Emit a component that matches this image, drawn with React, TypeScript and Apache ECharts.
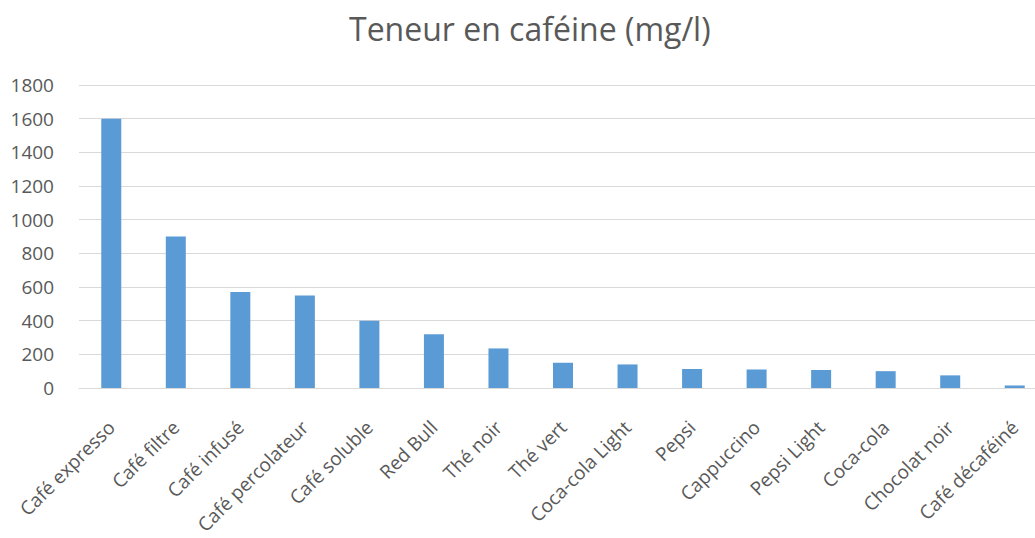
import React, { useEffect, useRef } from "react";
import * as echarts from "echarts";

const categories = [
  "Café expresso",
  "Café filtre",
  "Café infusé",
  "Café percolateur",
  "Café soluble",
  "Red Bull",
  "Thé noir",
  "Thé vert",
  "Coca-cola Light",
  "Pepsi",
  "Cappuccino",
  "Pepsi Light",
  "Coca-cola",
  "Chocolat noir",
  "Café décaféiné",
];
const caffeine = [1600, 900, 570, 550, 400, 320, 235, 150, 140, 113, 110, 107, 100, 75, 15];
const titleText = "Teneur en caféine (mg/l)";
const yMin = 0;
const yMax = 1800;
const yStep = 200;

export default function App() {
  const ref = useRef<HTMLDivElement>(null);
  useEffect(() => {
    if (!ref.current) return;
    const chart = echarts.init(ref.current, null, { renderer: "svg" });
    const font = "'Open Sans', 'Liberation Sans', sans-serif";
    chart.setOption({
      animation: false,
      backgroundColor: "#ffffff",
      title: {
        text: titleText,
        left: 344,
        top: 7,
        textStyle: { fontFamily: font, fontSize: 32, fontWeight: "normal", color: "#595959" },
      },
      grid: {
        left: 79,
        right: -12,
        top: 85,
        bottom: 150,
        containLabel: false,
        outerBoundsMode: "none",
      },
      xAxis: {
        type: "category",
        data: categories,
        axisTick: { show: false },
        axisLine: { show: true, lineStyle: { color: "#d9d9d9", width: 1 } },
        axisLabel: {
          rotate: 45,
          interval: 0,
          margin: 36,
          fontFamily: font,
          fontSize: 19,
          color: "#595959",
        },
      },
      yAxis: {
        type: "value",
        min: yMin,
        max: yMax,
        interval: yStep,
        axisLine: { show: false },
        axisTick: { show: false },
        splitLine: { lineStyle: { color: "#d9d9d9", width: 1 } },
        axisLabel: {
          fontFamily: font,
          fontSize: 19,
          color: "#595959",
          margin: 25,
          formatter: (v: number) => String(v),
        },
      },
      series: [
        {
          type: "bar",
          data: caffeine,
          barWidth: 20,
          itemStyle: { color: "#5b9bd5" },
        },
      ],
    });
    return () => chart.dispose();
  }, []);
  return (
    <div
      ref={ref}
      style={{ position: "fixed", left: 0, top: 0, width: 1035, height: 538 }}
    />
  );
}
